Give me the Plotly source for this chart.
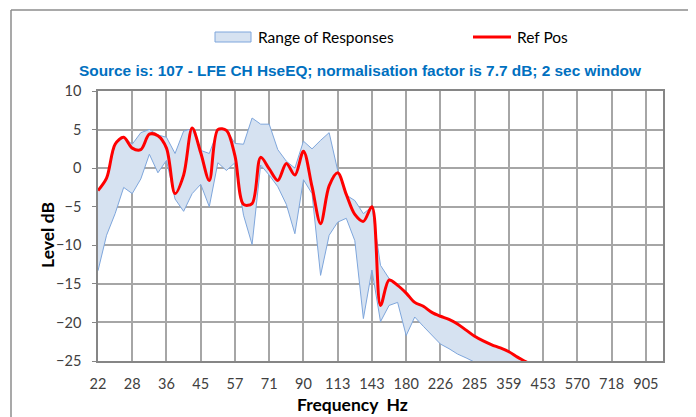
import plotly.graph_objects as go

# 1/12-octave frequency categories (Hz)
FREQS = ["22", "24", "25", "27", "28", "30", "32", "34", "36", "38", "40", "42",
         "45", "48", "50", "53", "57", "60", "64", "67", "71", "76", "80", "85",
         "90", "95", "101", "107", "113", "120", "127", "135", "143", "151", "160", "170",
         "180", "190", "202", "214", "226", "240", "254", "269", "285", "302", "320", "339",
         "359", "381", "403", "427", "453", "480", "508", "538", "570", "604", "640", "678",
         "718", "761", "806", "854", "905", "959", "1016"]
TICK_LABELS = ["22", "28", "36", "45", "57", "71", "90", "113", "143", "180", "226",
               "285", "359", "453", "570", "718", "905"]

ref_pos = [-2.9, -1.3, 3.1, 4.0, 2.6, 2.4, 4.4, 4.2, 2.6, -3.3, -0.9, 5.2,
           2.0, -1.6, 5.0, 4.9, 1.6, -4.7, -4.6, 1.4, -0.1, -1.6, 0.6, -0.9,
           2.2, -2.4, -7.2, -2.3, -0.6, -3.4, -6.0, -6.9, -5.0, -17.8, -14.5, -15.2,
           -16.2, -17.4, -17.9, -18.7, -19.2, -19.6, -20.2, -21.0, -21.8, -22.4, -22.9, -23.3,
           -23.8, -24.5, -25.1, -25.8]

range_upper = [-2.9, -1.3, 3.1, 4.0, 3.1, 4.6, 5.0, 4.3, 4.0, 1.9, 4.8, 5.1,
               2.3, 1.9, 4.9, 5.0, 3.2, 3.1, 6.5, 5.7, 5.7, 2.4, 0.9, 0.0,
               3.5, 2.5, 3.6, 4.6, -0.3, -3.5, -4.2, -5.9, -5.0, -12.6, -14.3, -15.1,
               -16.2, -17.4, -17.9, -18.7, -19.2, -19.6, -20.2, -21.0, -21.8, -22.4, -22.9, -23.3,
               -23.8, -24.5, -25.1, -25.8]

range_lower = [-13.3, -8.7, -5.9, -2.5, -3.3, -1.4, 1.8, -0.6, 1.0, -4.0, -5.6, -3.3,
               -2.1, -5.0, 0.7, -0.3, 0.7, -6.1, -9.9, 0.4, -0.9, -2.4, -4.7, -8.5,
               -1.5, -3.3, -13.9, -8.7, -7.0, -6.5, -9.4, -19.5, -13.2, -19.9, -17.8, -17.4,
               -21.7, -19.3, -20.5, -21.7, -22.8, -23.4, -24.1, -24.6, -25.2, -25.7]

FONT = "Lato"
TXT = "#404040"
BAND_FILL = "#d6e2f1"
BAND_LINE = "#7ea6dc"
RED = "#ff0000"

fig = go.Figure()
fig.add_trace(go.Scatter(x=FREQS[:len(range_upper)], y=range_upper, mode="lines",
                         line=dict(color=BAND_LINE, width=1), showlegend=False,
                         hoverinfo="skip"))
fig.add_trace(go.Scatter(x=FREQS[:len(range_lower)], y=range_lower, mode="lines",
                         line=dict(color=BAND_LINE, width=1), fill="tonexty",
                         fillcolor=BAND_FILL, name="Range of Responses", showlegend=False))
fig.add_trace(go.Scatter(x=FREQS[:len(ref_pos)], y=ref_pos, mode="lines",
                         line=dict(color=RED, width=3, shape="spline", smoothing=0.9),
                         name="Ref Pos", showlegend=False))

# the page body has an 8px default margin; screen coordinates below are page pixels
OFF = 8
SW, SH = 696, 417
W, H = SW - OFF, SH - OFF
# plot area in page pixels: x 98..663, y 91..361
L, R, T, B = 98 - OFF, SW - 663, 91 - OFF, SH - 361
pw, ph = W - L - R, H - T - B


def px(x):
    return (x - OFF - L) / pw


def py(y):
    return (H - B - (y - OFF)) / ph


frame = "#8c8c8c"
shapes = [
    dict(type="line", xref="paper", yref="paper", x0=px(11), x1=px(11), y0=py(10), y1=py(420),
         line=dict(color=frame, width=1.5)),
    dict(type="line", xref="paper", yref="paper", x0=px(690), x1=px(690), y0=py(10), y1=py(420),
         line=dict(color=frame, width=1.5)),
    dict(type="line", xref="paper", yref="paper", x0=px(11), x1=px(690), y0=py(10), y1=py(10),
         line=dict(color=frame, width=1.5)),
    # legend swatches
    dict(type="rect", xref="paper", yref="paper", x0=px(215), x1=px(251), y0=py(42), y1=py(32),
         fillcolor=BAND_FILL, line=dict(color=BAND_LINE, width=1)),
    dict(type="line", xref="paper", yref="paper", x0=px(473), x1=px(511), y0=py(37), y1=py(37),
         line=dict(color=RED, width=3)),
]

annotations = [
    dict(text="Range of Responses", xref="paper", yref="paper", x=px(256), y=py(37.5),
         xanchor="left", yanchor="middle", showarrow=False,
         font=dict(family=FONT, size=15.5, color="#000000")),
    dict(text="Ref Pos", xref="paper", yref="paper", x=px(515), y=py(37.5),
         xanchor="left", yanchor="middle", showarrow=False,
         font=dict(family=FONT, size=15.5, color="#000000")),
    dict(text="<b>Source is: 107 - LFE CH HseEQ; normalisation factor is 7.7 dB; 2 sec window</b>",
         xref="paper", yref="paper", x=px(359.5), y=py(71),
         xanchor="center", yanchor="middle", showarrow=False,
         font=dict(family="Liberation Sans", size=15.4, color="#0070c0")),
    dict(text="<b>Frequency  Hz</b>", xref="paper", yref="paper", x=px(352), y=py(404),
         xanchor="center", yanchor="middle", showarrow=False,
         font=dict(family=FONT, size=17.5, color="#000000")),
    dict(text="<b>Level dB</b>", xref="paper", yref="paper", x=px(47), y=py(235),
         xanchor="center", yanchor="middle", showarrow=False, textangle=-90,
         font=dict(family=FONT, size=17.5, color="#000000")),
]

fig.update_layout(
    width=W, height=H,
    margin=dict(l=L, r=R, t=T, b=B, autoexpand=False),
    paper_bgcolor="white", plot_bgcolor="white",
    font=dict(family=FONT, size=14, color=TXT),
    showlegend=False,
    xaxis=dict(type="category", categoryorder="array", categoryarray=FREQS,
               range=[0, len(FREQS) - 1], tickvals=TICK_LABELS, ticktext=TICK_LABELS,
               showgrid=True, gridcolor="#a6a6a6", gridwidth=1.5,
               showline=True, linecolor="#868686", linewidth=1.5, mirror=True,
               ticks="", ticklabelstandoff=9, tickfont=dict(size=14.5, color=TXT),
               zeroline=False),
    yaxis=dict(range=[-25, 10], dtick=5, tick0=0,
               showgrid=True, gridcolor="#a6a6a6", gridwidth=1.5,
               showline=True, linecolor="#868686", linewidth=1.5, mirror=True,
               ticks="outside", ticklen=4, tickcolor="#868686", ticklabelstandoff=8,
               tickfont=dict(size=14.5, color=TXT), zeroline=False),
    shapes=shapes,
    annotations=annotations,
    hovermode=False,
)

fig.write_html("out.html")
